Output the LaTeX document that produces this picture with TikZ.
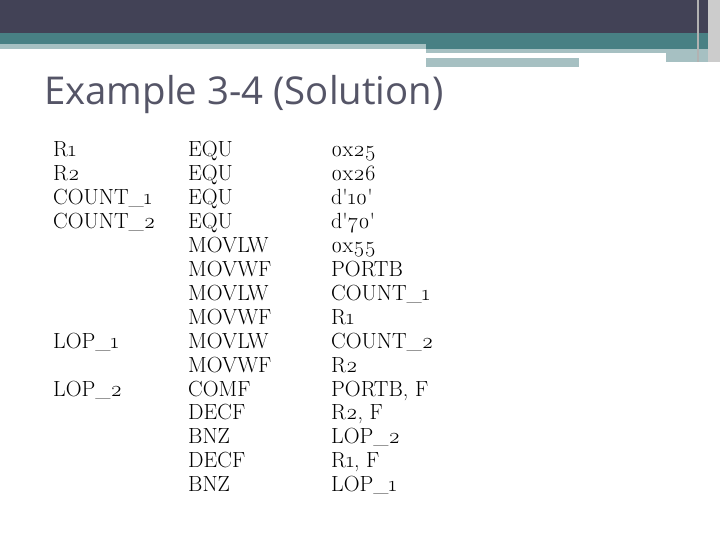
\documentclass[tikz,border=0pt]{standalone}
\usepackage{fontspec}
\setmainfont{Latin Modern Roman}[Numbers=OldStyle]
\newfontfamily\plainlm{Latin Modern Roman}[Numbers=OldStyle]
\newfontfamily\titlefont{Open Sans}
\newcommand\sq{{\plainlm\char"27\relax}}
\begin{document}
\begin{tikzpicture}[x=1bp,y=-1bp,
  cell/.style={anchor=base west,inner sep=0pt,font=\fontsize{22}{22}\selectfont,text=black}]
\useasboundingbox[fill=white] (0,0) rectangle (720,540);
\definecolor{darkbar}{RGB}{66,66,86}
\definecolor{tealbar}{RGB}{72,128,132}
\definecolor{lightbar}{RGB}{166,192,194}
\fill[darkbar] (0,0) rectangle (720,33);
\fill[tealbar] (0,33) rectangle (720,44);
\fill[tealbar] (426,44) rectangle (720,49.5);
\fill[lightbar] (0,44) rectangle (426,49);
\fill[lightbar] (426,49.5) rectangle (666,53);
\fill[lightbar] (426,58) rectangle (579,67);
\fill[lightbar] (666,49.5) rectangle (708,62);
\fill[gray!60] (697,0) rectangle (699,62);
\fill[gray!40] (708,0) rectangle (720,62);
\node[anchor=base west,inner sep=0pt,font=\titlefont\fontsize{38.5}{38.5}\selectfont,text=darkbar!90] (title) at (44,105) {Example 3-4 (Solution)};
\foreach \i/\a/\b/\c in {0/R1/EQU/0x25,1/R2/EQU/0x26,2/COUNT\_1/EQU/d\sq10\sq,3/COUNT\_2/EQU/d\sq70\sq,4//MOVLW/0x55,5//MOVWF/PORTB,6//MOVLW/COUNT\_1,7//MOVWF/R1,8/LOP\_1/MOVLW/COUNT\_2,9//MOVWF/R2,10/LOP\_2/COMF/{PORTB, F},11//DECF/{R2, F},12//BNZ/LOP\_2,13//DECF/{R1, F},14//BNZ/LOP\_1}{
  \node[cell] (a\i) at (53,157+23.9*\i) {\a};
  \node[cell] (b\i) at (188,157+23.9*\i) {\b};
  \node[cell] (c\i) at (331,157+23.9*\i) {\c};
}
\end{tikzpicture}
\end{document}
